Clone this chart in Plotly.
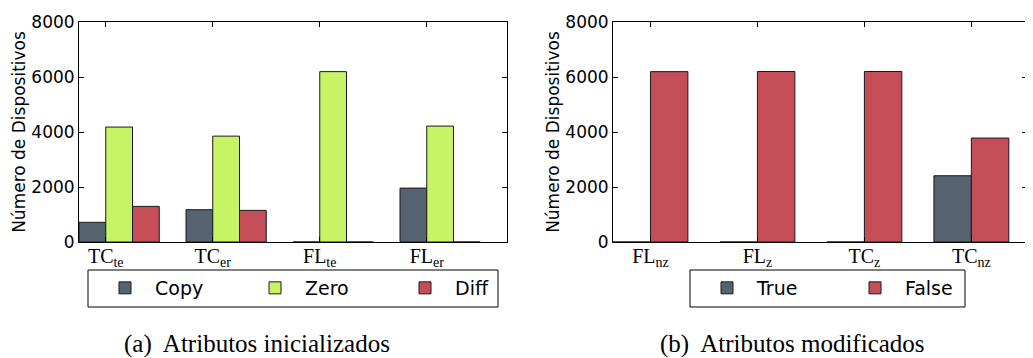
import plotly.graph_objects as go

# ---- data ----
left_categories = ["TC<sub>te</sub>", "TC<sub>er</sub>", "FL<sub>te</sub>", "FL<sub>er</sub>"]
copy_vals = [715, 1175, 0, 1960]
zero_vals = [4180, 3850, 6195, 4215]
diff_vals = [1295, 1150, 0, 0]

right_categories = ["FL<sub>nz</sub>", "FL<sub>z</sub>", "TC<sub>z</sub>", "TC<sub>nz</sub>"]
true_vals = [0, 0, 0, 2410]
false_vals = [6195, 6200, 6200, 3780]

y_ticks = [0, 2000, 4000, 6000, 8000]

C_DARK = "#556270"
C_GREEN = "#C7F464"
C_RED = "#C44D58"

# the page body has an 8px margin; the figure is sized to the visible area
OFF = 8
W, H = 1033 - OFF, 358 - OFF


def px(x):
    return (x - OFF) / W


def py(y):
    return 1 - (y - OFF) / H


fig = go.Figure()

wl = 0.25
xl = list(range(len(left_categories)))
for name, vals, col, k in [("Copy", copy_vals, C_DARK, 0), ("Zero", zero_vals, C_GREEN, 1), ("Diff", diff_vals, C_RED, 2)]:
    fig.add_trace(go.Bar(x=xl, y=vals, name=name, width=wl, offset=k * wl,
                         marker=dict(color=col, line=dict(color="#1a1a1a", width=1)),
                         xaxis="x", yaxis="y", legend="legend"))

wr = 0.35
xr = list(range(len(right_categories)))
for name, vals, col, k in [("True", true_vals, C_DARK, 0), ("False", false_vals, C_RED, 1)]:
    fig.add_trace(go.Bar(x=xr, y=vals, name=name, width=wr, offset=k * wr,
                         marker=dict(color=col, line=dict(color="#1a1a1a", width=1)),
                         xaxis="x2", yaxis="y2", legend="legend2"))

axis_common = dict(showline=True, linecolor="black", linewidth=1, mirror="ticks", automargin=False,
                   ticks="inside", ticklen=5, tickcolor="black", showgrid=False, zeroline=False)
xfont = dict(family="Liberation Serif, DejaVu Serif, serif", size=20, color="black")
yfont = dict(family="DejaVu Sans, sans-serif", size=17, color="black")
legfont = dict(family="DejaVu Sans, sans-serif", size=19, color="black")
capfont = dict(family="Liberation Serif, Times New Roman, serif", size=25, color="black")

legend_box = dict(type="rect", xref="paper", yref="paper", line=dict(color="black", width=1),
                  fillcolor="rgba(0,0,0,0)", layer="above")

fig.update_layout(
    width=W, height=H, margin=dict(l=0, r=0, t=0, b=0),
    paper_bgcolor="white", plot_bgcolor="white", barmode="overlay",
    xaxis=dict(domain=[px(79), px(507)], range=[0, 4],
               tickvals=[i + wl for i in xl], ticktext=left_categories, tickfont=xfont,
               ticklabelstandoff=-4, anchor="y", **axis_common),
    yaxis=dict(domain=[py(242), py(22)], range=[0, 8000], tickvals=y_ticks, tickfont=yfont,
               title=dict(text="Número de Dispositivos", font=yfont, standoff=1),
               anchor="x", **axis_common),
    xaxis2=dict(domain=[px(613), px(1027)], range=[0, 3.87],
                tickvals=[i + wr for i in xr], ticktext=right_categories, tickfont=xfont,
                ticklabelstandoff=-4, anchor="y2", **axis_common),
    yaxis2=dict(domain=[py(242), py(22)], range=[0, 8000], tickvals=y_ticks, tickfont=yfont,
                title=dict(text="Número de Dispositivos", font=yfont, standoff=1),
                anchor="x2", **axis_common),
    legend=dict(orientation="h", x=px(95), y=py(288), xanchor="left", yanchor="middle",
                borderwidth=0, bgcolor="rgba(0,0,0,0)", font=legfont,
                entrywidth=85, entrywidthmode="pixels", itemwidth=50, traceorder="normal"),
    legend2=dict(orientation="h", x=px(697), y=py(288), xanchor="left", yanchor="middle",
                 borderwidth=0, bgcolor="rgba(0,0,0,0)", font=legfont,
                 entrywidth=83, entrywidthmode="pixels", itemwidth=50, traceorder="normal"),
    showlegend=True,
    shapes=[
        dict(legend_box, x0=px(88), x1=px(498), y0=py(307), y1=py(270)),
        dict(legend_box, x0=px(690), x1=px(965), y0=py(307), y1=py(270)),
    ],
    annotations=[
        dict(text="(a)  Atributos inicializados", x=px(257), y=py(344), xref="paper", yref="paper",
             showarrow=False, xanchor="center", yanchor="middle", font=capfont),
        dict(text="(b)  Atributos modificados", x=px(792), y=py(344), xref="paper", yref="paper",
             showarrow=False, xanchor="center", yanchor="middle", font=capfont),
    ],
)

fig.write_html("out.html")
